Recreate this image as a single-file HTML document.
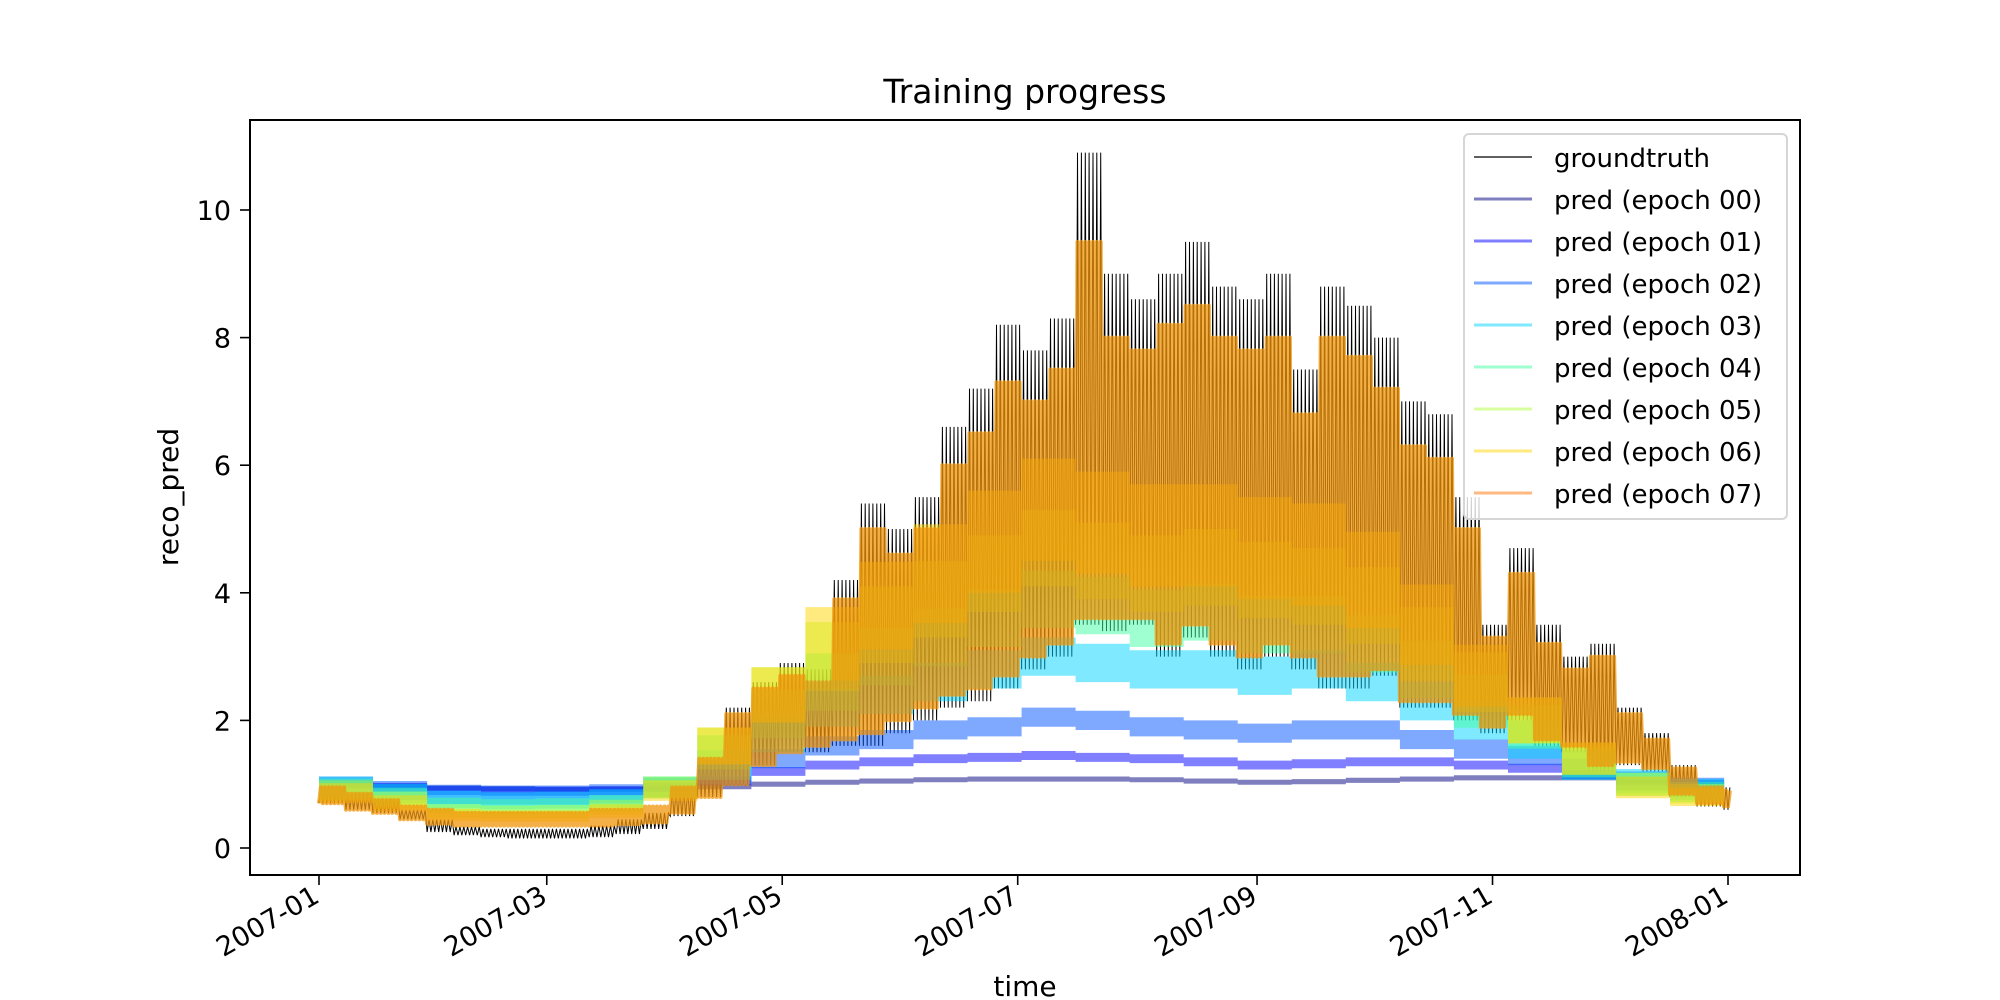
<!DOCTYPE html>
<html><head><meta charset="utf-8"><style>
html,body{margin:0;padding:0;background:#fff;}
svg{display:block;font-family:"DejaVu Sans","Liberation Sans",sans-serif;}
</style></head><body>
<svg id="chart" width="2000" height="1000" viewBox="0 0 2000 1000" xmlns="http://www.w3.org/2000/svg">
<rect x="0" y="0" width="2000" height="1000" fill="#fff"/>
<text x="1025" y="103" font-size="33" text-anchor="middle">Training progress</text>
<text x="0" y="0" font-size="28" text-anchor="middle" transform="translate(178,497) rotate(-90)">reco_pred</text>
<text x="1025" y="996" font-size="28" text-anchor="middle">time</text>
<defs><clipPath id="plotclip"><rect x="250" y="120" width="1550" height="755"/></clipPath></defs>
<g id="plot" clip-path="url(#plotclip)"></g>
<g id="axes"></g>
<rect x="250" y="120" width="1550" height="755" fill="none" stroke="#000" stroke-width="2"/>
<g id="legend"></g>
</svg>
<script>
// ---- data ----
const xTickLabels = ["2007-01","2007-03","2007-05","2007-07","2007-09","2007-11","2008-01"];
const xTickDays = [0,59,120,181,243,304,365];
const yTickValues = [0,2,4,6,8,10];
const seriesNames = ["groundtruth","pred (epoch 00)","pred (epoch 01)","pred (epoch 02)","pred (epoch 03)","pred (epoch 04)","pred (epoch 05)","pred (epoch 06)","pred (epoch 07)"];
// weekly groundtruth daily peak / night base
const gtHi = [1.0,0.85,0.75,0.6,0.45,0.33,0.3,0.3,0.3,0.3,0.35,0.45,0.55,0.9,1.4,2.2,2.6,2.9,2.8,4.2,5.4,5.0,5.5,6.6,7.2,8.2,7.8,8.3,10.9,9.0,8.6,9.0,9.5,8.8,8.6,9.0,7.5,8.8,8.5,8.0,7.0,6.8,5.5,3.5,4.7,3.5,3.0,3.2,2.2,1.8,1.3,1.0,0.95];
const gtLo = [0.7,0.6,0.55,0.45,0.25,0.2,0.17,0.15,0.15,0.15,0.17,0.22,0.3,0.5,0.8,1.0,1.3,1.5,1.5,1.6,1.6,1.8,2.0,2.2,2.3,2.5,2.8,3.0,3.5,3.4,3.5,3.0,3.3,3.0,2.8,3.0,2.8,2.5,2.5,2.7,2.2,2.2,2.0,1.8,2.0,1.6,1.5,1.2,1.3,1.2,0.8,0.65,0.6];
// biweekly epoch band centres
const e00 = [1.0,0.97,0.94,0.93,0.92,0.92,0.93,0.96,1.0,1.03,1.05,1.07,1.08,1.08,1.08,1.07,1.05,1.03,1.04,1.06,1.08,1.1,1.1,1.1,1.05,1.0];
const e01 = [1.0,0.95,0.9,0.89,0.89,0.9,0.95,1.05,1.2,1.3,1.35,1.4,1.42,1.45,1.42,1.4,1.35,1.3,1.32,1.35,1.35,1.3,1.25,1.15,1.05,1.0];
const e02 = [0.97,0.9,0.84,0.83,0.83,0.85,0.95,1.15,1.4,1.6,1.7,1.85,1.9,2.05,2.0,1.9,1.85,1.8,1.85,1.85,1.7,1.55,1.45,1.25,1.05,0.95];
const e03 = [0.95,0.85,0.76,0.74,0.75,0.78,0.95,1.3,1.8,2.2,2.4,2.6,2.8,3.0,2.9,2.8,2.8,2.7,2.8,2.6,2.3,2.0,1.7,1.3,1.05,0.92];
const e04 = [0.92,0.8,0.67,0.65,0.66,0.7,0.95,1.5,2.1,2.6,3.0,3.3,3.6,3.9,3.8,3.6,3.7,3.5,3.5,3.2,2.8,2.3,1.9,1.35,1.0,0.88];
const e05 = [0.9,0.75,0.58,0.56,0.57,0.64,0.95,1.6,2.4,3.0,3.5,3.9,4.3,4.7,4.5,4.3,4.4,4.2,4.1,3.8,3.2,2.6,2.0,1.4,1.0,0.85];
const e06 = [0.86,0.7,0.52,0.5,0.5,0.58,0.9,1.6,2.4,3.2,3.8,4.3,4.8,5.3,5.1,4.9,4.9,4.7,4.6,4.2,3.5,2.7,2.0,1.4,0.95,0.8];
const epochHalfWidth = [0.04,0.07,0.15,0.3,0.45,0.6,0.8];
// weekly epoch 07 peak / base
const e07Hi = [0.95,0.85,0.75,0.65,0.6,0.55,0.55,0.55,0.55,0.55,0.6,0.6,0.65,0.95,1.4,2.1,2.5,2.7,2.6,3.9,5.0,4.6,5.0,6.0,6.5,7.3,7.0,7.5,9.5,8.0,7.8,8.2,8.5,8.0,7.8,8.0,6.8,8.0,7.7,7.2,6.3,6.1,5.0,3.3,4.3,3.2,2.8,3.0,2.1,1.7,1.25,0.95,0.9];
const e07Lo = [0.7,0.6,0.55,0.45,0.38,0.35,0.35,0.35,0.35,0.35,0.35,0.37,0.4,0.55,0.8,1.0,1.3,1.5,1.6,1.7,1.8,2.0,2.2,2.4,2.5,2.7,3.0,3.2,3.6,3.6,3.6,3.2,3.5,3.2,3.0,3.2,3.0,2.7,2.7,2.8,2.3,2.3,2.1,1.9,2.1,1.7,1.6,1.3,1.35,1.25,0.85,0.7,0.65];

// ---- axes functions ----
const X0=319, PXDAY=(1728-319)/365;
const Y0=848, PXUNIT=63.8;
function xs(day){return X0+day*PXDAY;}
function ys(v){return Y0-v*PXUNIT;}
const NS="http://www.w3.org/2000/svg";
function mk(tag,attrs,parent){const e=document.createElementNS(NS,tag);for(const k in attrs)e.setAttribute(k,attrs[k]);parent.appendChild(e);return e;}
const plot=document.getElementById('plot'), axes=document.getElementById('axes'), legend=document.getElementById('legend');
const colors=["#000","rgba(0,0,128,0.5)","rgba(0,0,255,0.5)","rgba(0,81,255,0.5)","rgba(0,212,255,0.5)","rgba(65,255,161,0.5)","rgba(177,255,63,0.5)","rgba(255,214,0,0.5)","rgba(255,113,0,0.5)"];

function zigzag(hi,lo){let d="";for(let day=0;day<=365;day++){const w=Math.min(Math.floor(day/7),hi.length-1);d+=(day?"L":"M")+xs(day).toFixed(1)+","+ys(lo[w]).toFixed(1)+"L"+xs(day+0.5).toFixed(1)+","+ys(hi[w]).toFixed(1);}return d;}
const gt=mk('path',{d:zigzag(gtHi,gtLo),fill:'none',stroke:'#000','stroke-width':1},plot);



const eps=[e00,e01,e02,e03,e04,e05,e06];
eps.forEach((arr,k)=>{
  let top="",bot=[];
  arr.forEach((m,i)=>{
    const hw=Math.min(epochHalfWidth[k],m*0.18);
    const a=xs(i*14), b=xs(Math.min((i+1)*14,365));
    top+=(i?"L":"M")+a.toFixed(1)+","+ys(m+hw).toFixed(1)+"L"+b.toFixed(1)+","+ys(m+hw).toFixed(1);
    bot.unshift("L"+b.toFixed(1)+","+ys(m-hw).toFixed(1)+"L"+a.toFixed(1)+","+ys(m-hw).toFixed(1));
  });
  const p=mk('path',{d:top+bot.join("")+"Z",fill:colors[k+1],stroke:'none'},plot);
  
  
});
const p7=mk('path',{d:zigzag(e07Hi,e07Lo),fill:'none',stroke:'rgba(240,150,10,0.75)','stroke-width':4,'stroke-linejoin':'round'},plot);



xTickDays.forEach((d,i)=>{
  const x=xs(d);
  const t=mk('line',{x1:x,x2:x,y1:875,y2:885,stroke:'#000','stroke-width':1.6},axes);
  
  
  const l=mk('text',{x:0,y:0,'font-size':27,'text-anchor':'end',transform:`translate(${x+2},${901}) rotate(-30)`},axes);
  l.textContent=xTickLabels[i];
  
  
});
yTickValues.forEach(v=>{
  const y=ys(v);
  const t=mk('line',{x1:240,x2:250,y1:y,y2:y,stroke:'#000','stroke-width':1.6},axes);
  
  
  const l=mk('text',{x:231,y:y+10,'font-size':27,'text-anchor':'end'},axes);
  l.textContent=v;
  
  
});

const box=mk('rect',{x:1464,y:134,width:323,height:385,rx:5,fill:'rgba(255,255,255,0.8)',stroke:'#d6d6d6','stroke-width':2},legend);


seriesNames.forEach((n,i)=>{
  const y=157+i*42;
  const ln=mk('line',{x1:1474,x2:1532,y1:y,y2:y,stroke:colors[i],'stroke-width':i?3:1.2},legend);
  
  
  const t=mk('text',{x:1554,y:y+10,'font-size':26},legend);
  t.textContent=n;
  
  
});
</script>
</body></html>
